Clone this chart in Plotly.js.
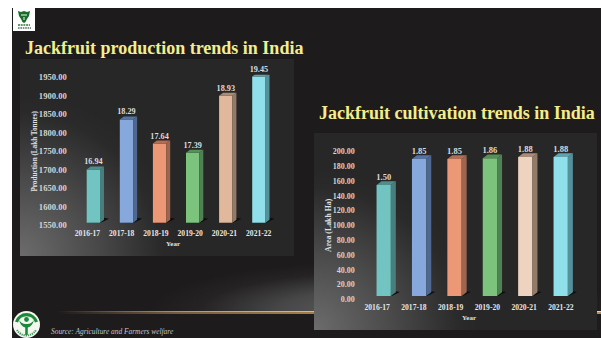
<!DOCTYPE html>
<html>
<head>
<meta charset="utf-8">
<script src="https://cdn.plot.ly/plotly-3.0.1.min.js"></script>
<style>
  html, body { margin: 0; padding: 0; background: #fff; }
  #slide { position: absolute; left: 12px; top: 8px; width: 589px; height: 330px; background: #1e1b1c; overflow: hidden; }
  #glow { position: absolute; left: 0; top: 0; width: 589px; height: 303px;
          background: radial-gradient(ellipse 235px 50px at 372px 303px, #626262 0%, #474747 45%, rgba(40,38,38,.7) 78%, rgba(30,27,28,0) 100%); }
  #rule { position: absolute; left: 45px; top: 302.6px; width: 544px; height: 3px;
          background: linear-gradient(90deg, rgba(190,140,80,0), rgba(190,145,85,.55) 22%, #a98248 50%, #b8904f 100%); }
  #rule:before { content: ""; position: absolute; left: 0; top: 0; right: 0; height: 1.3px;
          background: linear-gradient(90deg, rgba(230,190,120,0), rgba(230,190,120,.6) 25%, #e6c486 60%, #efd49a 100%); }
  .panel { position: absolute; background: radial-gradient(ellipse 58% 82% at 0% 100%, #6c6c6c 0%, #484848 50%, #2a2a2a 88%, #272727 100%); }
  #p1 { left: 8px; top: 51px; width: 274px; height: 197px; }
  #p2 { left: 302px; top: 125px; width: 283px; height: 197px; }
  #chart { position: absolute; left: 0; top: 0; }
  #marks { position: absolute; left: 0; top: 0; }
</style>
</head>
<body>
<div id="slide">
  <div id="glow"></div>
  <div id="rule"></div>
  <div class="panel" id="p1"></div>
  <div class="panel" id="p2"></div>
</div>
<div id="chart"></div>
<svg id="marks" width="601" height="338">
  <!-- institute emblem, top left -->
  <rect x="13" y="8" width="22" height="23" fill="#ffffff"/>
  <path d="M18 11 L21 12 L24 11 L27 12 L30 11 L29 16 L27 19 L25.5 22 L24 23 L22.5 22 L21 19 L19 16 Z" fill="#1c6b2c"/>
  <path d="M21 14 h6 v2 h-6 Z M23 17 h2 v3 h-2 Z" fill="#7fb58a"/>
  <path d="M18 25 H30" stroke="#2c7a3a" stroke-width="1.6" stroke-dasharray="2 0.7"/>
  <path d="M18 28 H31" stroke="#55705c" stroke-width="1.4" stroke-dasharray="1.6 0.8"/>
  <!-- institute emblem, bottom left -->
  <circle cx="26.5" cy="324.5" r="13.5" fill="#f4f7f0"/>
  <path d="M16.5 322 A10.5 10.5 0 0 1 36.5 322" fill="none" stroke="#1a8a3a" stroke-width="3.2"/>
  <path d="M17 330 A11 11 0 0 0 36 330" fill="none" stroke="#4a9a5e" stroke-width="2" stroke-dasharray="1.3 0.8"/>
  <circle cx="26.5" cy="319.5" r="2.4" fill="#1a8a3a"/>
  <path d="M19 320 Q21 327 25.2 327.5 V335 H27.8 V327.5 Q32 327 34 320 Q31 324.5 26.5 324 Q22 324.5 19 320 Z" fill="#1a8a3a"/>
</svg>
<script>
// Production (lakh tonnes x 100, as plotted on the axis) and cultivated area
const years = ['2016-17', '2017-18', '2018-19', '2019-20', '2020-21', '2021-22'];
const production = [1694, 1829, 1764, 1739, 1893, 1945];
const area = [150, 185, 185, 186, 188, 188];
const productionTicks = [1550, 1600, 1650, 1700, 1750, 1800, 1850, 1900, 1950];
const areaTicks = [0, 20, 40, 60, 80, 100, 120, 140, 160, 180, 200];

const frontColors = ['#72c4c2', '#86a8dc', '#ec9776', '#7cc47e', '#e2b89c', '#8fe0ea'];
const frontColors2 = ['#72c4c2', '#86a8dc', '#ec9776', '#7cc47e', '#eed4c0', '#8fe0ea'];
const sideColors = ['#467f7d', '#4e688f', '#a0654e', '#4f8152', '#947a68', '#55919a'];
const topColors = ['#4f8e8c', '#5673a3', '#b06f55', '#569059', '#a98c78', '#5fa3ad'];

const W = 601, H = 338;
const serif = 'Liberation Serif, serif';
const xFrac = px => px / W;
const yFrac = px => 1 - px / H;

// 3D look: floor shadow, side face and top face anchored to each bar's data position
function extrusion(xref, yref, vals, base, pxPerUnit, halfW, depth, tops, sides) {
  const out = [];
  const rise = depth * 0.75;
  years.forEach((c, i) => {
    const common = { type: 'path', xref, yref, xsizemode: 'pixel', ysizemode: 'pixel', xanchor: c, line: { width: 0 } };
    const h = (vals[i] - base) * pxPerUnit;
    out.push({ ...common, layer: 'below', yanchor: base, fillcolor: '#0e0e0e',
      path: `M ${-halfW} 0 L ${halfW} -0.5 L ${halfW + 9} 4 L ${halfW + 4} 5 L ${halfW} 3 L ${-halfW + 6} 2 Z` });
    out.push({ ...common, layer: 'above', yanchor: vals[i], fillcolor: sides[i],
      path: `M ${halfW} 0 L ${halfW + depth} ${rise} L ${halfW + depth} ${rise - h} L ${halfW} ${-h} Z` });
    out.push({ ...common, layer: 'above', yanchor: vals[i], fillcolor: tops[i],
      path: `M ${-halfW} 0 L ${halfW} 0 L ${halfW + depth} ${rise} L ${-halfW + depth} ${rise} Z` });
  });
  return out;
}

const labelFont1 = { family: serif, size: 8.2, color: '#dcdcdc', weight: 700 };
const labelFont2 = { family: serif, size: 8.5, color: '#dcdcdc', weight: 700 };
const catFont = { family: serif, size: 7.6, color: '#e6e6e6', weight: 700 };
const titleFont = size => ({ family: serif, size, color: '#e0e0e0', weight: 700 });
const headFont = { family: serif, size: 18, color: '#f2ee8e', weight: 700 };

const hiddenAxis = { visible: false, fixedrange: true };

function labelAxisX(anchor, domain, title) {
  return { anchor, domain, type: 'category', showgrid: false, zeroline: false, showline: false, ticks: '',
    tickfont: catFont, tickangle: 0, ticklabelstandoff: 2, title: { text: title, font: titleFont(7), standoff: 4 } };
}
function labelAxisY(anchor, domain, range, ticks, font, standoff, title, titleSize, titleStandoff) {
  return { anchor, domain, range, showgrid: false, zeroline: false, showline: false, ticks: '',
    tickvals: ticks, ticktext: ticks.map(v => v.toFixed(2)), tickfont: font, ticklabelstandoff: standoff,
    title: { text: title, font: titleFont(titleSize), standoff: titleStandoff } };
}

const traces = [
  // Bars on their own front-plane axes
  { type: 'bar', x: years, y: production, xaxis: 'x', yaxis: 'y', marker: { color: frontColors, line: { width: 0 } },
    width: 0.402, text: production.map(v => (v / 100).toFixed(2)), textposition: 'outside', textangle: 0, constraintext: 'none',
    cliponaxis: false, textfont: labelFont1, hoverinfo: 'skip' },
  { type: 'bar', x: years, y: area, xaxis: 'x2', yaxis: 'y2', marker: { color: frontColors2, line: { width: 0 } },
    width: 0.404, text: area.map(v => (v / 100).toFixed(2)), textposition: 'outside', textangle: 0, constraintext: 'none',
    cliponaxis: false, textfont: labelFont2, hoverinfo: 'skip' },
  // Same values on the back-plane axes that carry the tick labels and titles
  { type: 'scatter', mode: 'markers', x: years, y: production, xaxis: 'x3', yaxis: 'y3', marker: { opacity: 0 }, hoverinfo: 'skip' },
  { type: 'scatter', mode: 'markers', x: years, y: area, xaxis: 'x4', yaxis: 'y4', marker: { opacity: 0 }, hoverinfo: 'skip' }
];

const layout = {
  width: W, height: H, margin: { l: 0, r: 0, t: 0, b: 0 }, showlegend: false,
  paper_bgcolor: 'rgba(0,0,0,0)', plot_bgcolor: 'rgba(0,0,0,0)',
  xaxis: { ...hiddenAxis, anchor: 'y', type: 'category', domain: [xFrac(76.8), xFrac(275.4)] },
  yaxis: { ...hiddenAxis, anchor: 'x', domain: [yFrac(222.7), yFrac(74.7)], range: [1550, 1950] },
  xaxis2: { ...hiddenAxis, anchor: 'y2', type: 'category', domain: [xFrac(366), xFrac(578.4)] },
  yaxis2: { ...hiddenAxis, anchor: 'x2', domain: [yFrac(296), yFrac(148)], range: [0, 200] },
  xaxis3: labelAxisX('y3', [xFrac(73.8), xFrac(272.4)], 'Year'),
  yaxis3: labelAxisY('x3', [yFrac(225.3), yFrac(77.3)], [1550, 1950], productionTicks,
    { family: serif, size: 8.6, color: '#d4d4d4', weight: 700 }, 6, 'Production (Lakh Tonnes)', 7.2, 0),
  xaxis4: labelAxisX('y4', [xFrac(362.8), xFrac(575.2)], 'Year'),
  yaxis4: labelAxisY('x4', [yFrac(299.3), yFrac(151.3)], [0, 200], areaTicks,
    { family: serif, size: 8, color: '#d4d4d4', weight: 700 }, 7, 'Area (Lakh Ha)', 7.8, 0),
  shapes: [
    ...extrusion('x', 'y', production, 1550, 0.37, 6.65, 4, topColors, sideColors),
    ...extrusion('x2', 'y2', area, 0, 0.74, 7.15, 5, topColors, sideColors)
  ],
  annotations: [
    { xref: 'paper', yref: 'paper', x: xFrac(23), y: yFrac(48), xanchor: 'left', yanchor: 'middle', showarrow: false,
      text: 'Jackfruit production trends in India', font: headFont },
    { xref: 'paper', yref: 'paper', x: xFrac(317), y: yFrac(113), xanchor: 'left', yanchor: 'middle', showarrow: false,
      text: 'Jackfruit cultivation trends in India', font: headFont },
    { xref: 'paper', yref: 'paper', x: xFrac(48.5), y: yFrac(331.5), xanchor: 'left', yanchor: 'middle', showarrow: false,
      text: 'Source: Agriculture and Farmers welfare', font: { family: serif, size: 7.4, color: '#c4c4c4', style: 'italic' } }
  ]
};

Plotly.newPlot('chart', traces, layout, { displayModeBar: false, responsive: false });
</script>
</body>
</html>
